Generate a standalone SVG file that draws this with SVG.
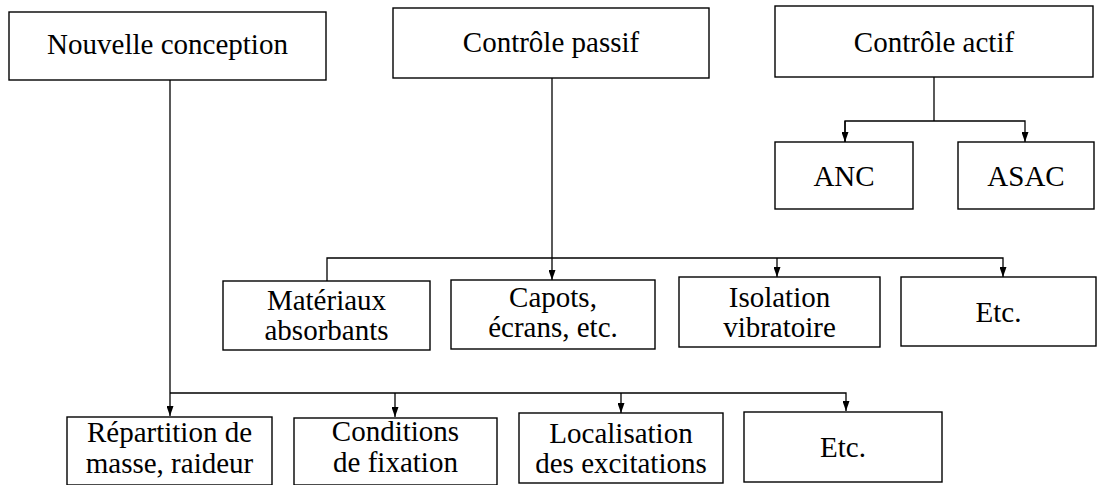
<svg xmlns="http://www.w3.org/2000/svg" width="1101" height="485" viewBox="0 0 1101 485">
<style>
.box{fill:#fff;stroke:#000;stroke-width:1.4}
.t{font-size:29px;fill:#000;text-anchor:middle}
.c{fill:none;stroke:#000;stroke-width:1.3}
</style>
<defs>
<marker id="ah" viewBox="0 0 10 7" refX="10" refY="3.5" markerWidth="10" markerHeight="7" markerUnits="userSpaceOnUse" orient="auto">
<path d="M0,0 L10,3.5 L0,7 Z" fill="#000"/>
</marker>
</defs>
<rect width="1101" height="485" fill="#fff"/>
<g id="connectors">
<line class="c" x1="170" y1="80" x2="170" y2="416" marker-end="url(#ah)"/>
<polyline class="c" points="170,393 846,393 846,411" marker-end="url(#ah)"/>
<line class="c" x1="395" y1="393" x2="395" y2="417" marker-end="url(#ah)"/>
<line class="c" x1="621" y1="393" x2="621" y2="413" marker-end="url(#ah)"/>
<line class="c" x1="552" y1="78" x2="552" y2="280" marker-end="url(#ah)"/>
<polyline class="c" points="327,281 327,258 1003,258 1003,277" marker-end="url(#ah)"/>
<line class="c" x1="777" y1="258" x2="777" y2="277" marker-end="url(#ah)"/>
<line class="c" x1="934" y1="77" x2="934" y2="121"/>
<polyline class="c" points="845,142 845,121 1025,121 1025,142" marker-end="url(#ah)"/>
<line class="c" x1="845" y1="121" x2="845" y2="142" marker-end="url(#ah)"/>
</g>
<g font-family="Liberation Serif, Times New Roman, DejaVu Serif, serif">
<g id="n-nouvelle"><rect class="box" x="9" y="12" width="317" height="68"/><text class="t" x="167.5" y="54">Nouvelle conception</text></g>
<g id="n-passif"><rect class="box" x="393" y="8" width="316" height="70"/><text class="t" x="551" y="52">Contrôle passif</text></g>
<g id="n-actif"><rect class="box" x="775" y="6" width="318" height="71"/><text class="t" x="934" y="52">Contrôle actif</text></g>
<g id="n-anc"><rect class="box" x="775" y="142" width="138" height="67"/><text class="t" x="844" y="186">ANC</text></g>
<g id="n-asac"><rect class="box" x="958" y="142" width="136" height="67"/><text class="t" x="1026" y="186">ASAC</text></g>
<g id="n-materiaux"><rect class="box" x="223" y="281" width="207" height="69"/><text class="t" x="326.5" y="310">Matériaux</text><text class="t" x="326.5" y="340">absorbants</text></g>
<g id="n-capots"><rect class="box" x="451" y="280" width="204" height="69"/><text class="t" x="553" y="307">Capots,</text><text class="t" x="553" y="337">écrans, etc.</text></g>
<g id="n-isolation"><rect class="box" x="679" y="277" width="201" height="70"/><text class="t" x="779.5" y="307">Isolation</text><text class="t" x="779.5" y="337">vibratoire</text></g>
<g id="n-etc1"><rect class="box" x="901" y="277" width="195" height="69"/><text class="t" x="998.5" y="322">Etc.</text></g>
<g id="n-repartition"><rect class="box" x="67" y="417" width="205" height="68"/><text class="t" x="169.5" y="442">Répartition de</text><text class="t" x="169.5" y="473">masse, raideur</text></g>
<g id="n-conditions"><rect class="box" x="294" y="418" width="203" height="67"/><text class="t" x="395.5" y="441">Conditions</text><text class="t" x="395.5" y="472">de fixation</text></g>
<g id="n-localisation"><rect class="box" x="519" y="413" width="204" height="70"/><text class="t" x="621" y="443">Localisation</text><text class="t" x="621" y="473">des excitations</text></g>
<g id="n-etc2"><rect class="box" x="744" y="412" width="198" height="70"/><text class="t" x="843" y="457">Etc.</text></g>
</g>
</svg>
